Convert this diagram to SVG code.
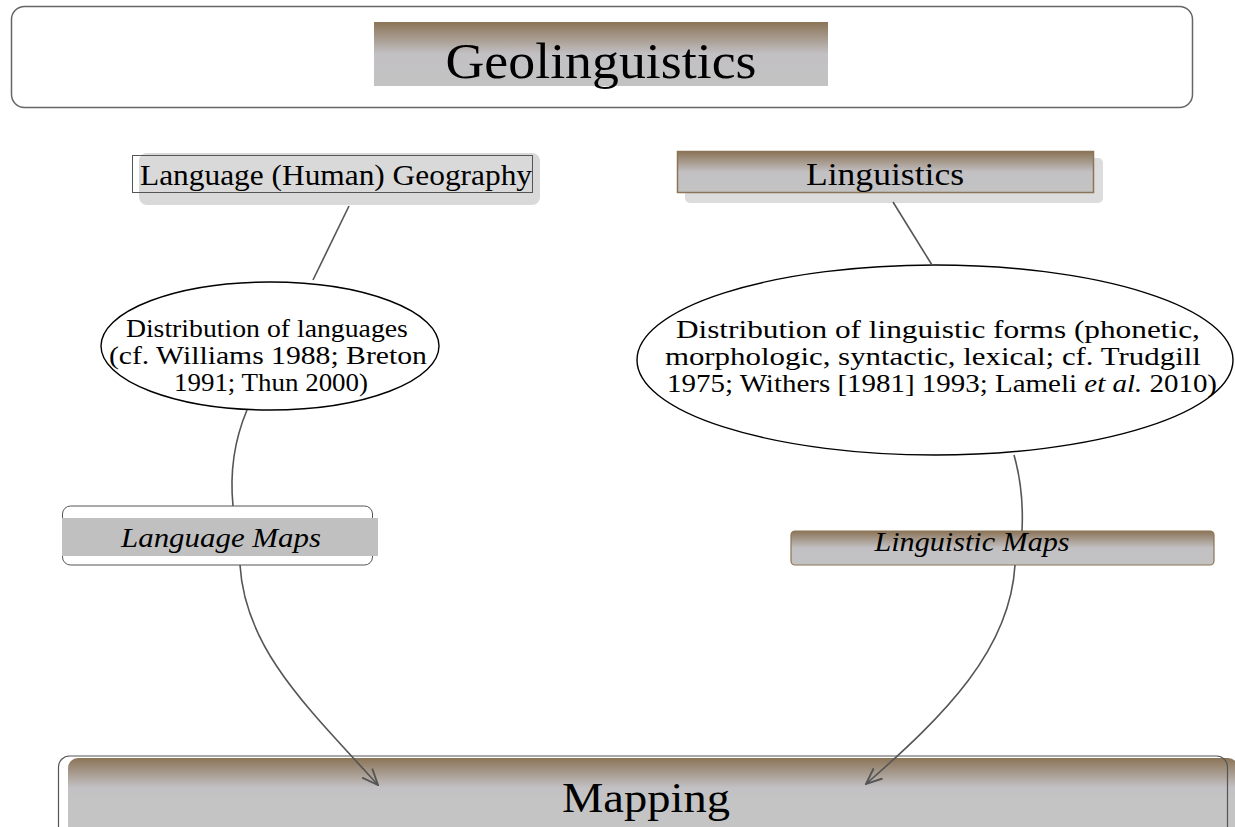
<svg xmlns="http://www.w3.org/2000/svg" width="1235" height="827" viewBox="0 0 1235 827">
<style>
.t{font-family:"Liberation Serif","Times New Roman",serif;fill:#000}
.frame{fill:none;stroke:#666;stroke-width:1.5}
.conn{fill:none;stroke:#555;stroke-width:1.6}
.ell{fill:#fff;stroke:#000;stroke-width:1.4}
</style>
<defs>
<linearGradient id="g" x1="0" y1="0" x2="0" y2="1">
<stop offset="0" stop-color="#8b7457"/>
<stop offset="0.5" stop-color="#c2c0c3"/>
<stop offset="1" stop-color="#c3c3c3"/>
</linearGradient>
<linearGradient id="gm" gradientUnits="userSpaceOnUse" x1="0" y1="758" x2="0" y2="800">
<stop offset="0" stop-color="#8b7457"/>
<stop offset="0.7" stop-color="#c2c0c3"/>
<stop offset="1" stop-color="#c4c4c4"/>
</linearGradient>
<marker id="arr" viewBox="0 0 10 10" refX="9.5" refY="5" markerUnits="userSpaceOnUse" markerWidth="17" markerHeight="17" orient="auto">
<path d="M0,1 L9.5,5 L0,9" fill="none" stroke="#555" stroke-width="1.1"/>
</marker>
</defs>

<g id="title">
<rect class="frame" x="11.5" y="6.5" width="1181" height="101" rx="13"/>
<rect x="374" y="22" width="454" height="64" fill="url(#g)"/>
<text class="t" x="601" y="78" font-size="50" text-anchor="middle" textLength="311" lengthAdjust="spacingAndGlyphs">Geolinguistics</text>
</g>

<g id="language-geography">
<rect x="139" y="153" width="401" height="52" rx="8" fill="#d9d9d9"/>
<rect x="132.5" y="155.5" width="400" height="37" fill="none" stroke="#555" stroke-width="1"/>
<text class="t" x="336" y="185" font-size="29" text-anchor="middle" textLength="392" lengthAdjust="spacingAndGlyphs">Language (Human) Geography</text>
</g>

<g id="linguistics">
<rect x="685" y="158" width="418" height="45" rx="5" fill="#dcdcdc"/>
<rect x="677.5" y="151.5" width="416" height="41" fill="url(#g)" stroke="#8b7457" stroke-width="1.5"/>
<text class="t" x="885" y="185" font-size="32" text-anchor="middle" textLength="158" lengthAdjust="spacingAndGlyphs">Linguistics</text>
</g>

<g id="distribution-languages">
<ellipse class="ell" cx="270" cy="346" rx="169" ry="64"/>
<text class="t" font-size="25" text-anchor="middle">
<tspan x="270" y="337" textLength="282" lengthAdjust="spacingAndGlyphs">Distribution of languages</tspan>
<tspan x="271" y="364" textLength="318" lengthAdjust="spacingAndGlyphs">(cf. Williams 1988; Breton</tspan>
<tspan x="271" y="391" textLength="194" lengthAdjust="spacingAndGlyphs">1991; Thun 2000)</tspan>
</text>
</g>

<g id="distribution-forms">
<ellipse class="ell" cx="935" cy="360" rx="298" ry="95"/>
<text class="t" font-size="25" text-anchor="middle">
<tspan x="941" y="338" textLength="524" lengthAdjust="spacingAndGlyphs">Distribution of linguistic forms (phonetic,</tspan>
<tspan x="936" y="365" textLength="536" lengthAdjust="spacingAndGlyphs">morphologic, syntactic, lexical; cf. Trudgill</tspan>
<tspan x="942" y="392" textLength="550" lengthAdjust="spacingAndGlyphs">1975; Withers [1981] 1993; Lameli <tspan font-style="italic">et al.</tspan> 2010)</tspan>
</text>
</g>

<g id="language-maps">
<rect x="62.5" y="506" width="310" height="59" rx="8" fill="#fff" stroke="#555" stroke-width="1"/>
<rect x="62" y="518" width="316" height="38" fill="#c0c0c0"/>
<text class="t" x="221" y="547" font-size="27" font-style="italic" text-anchor="middle" textLength="200" lengthAdjust="spacingAndGlyphs">Language Maps</text>
</g>

<g id="linguistic-maps">
<rect x="791" y="531" width="423" height="34" rx="4" fill="url(#g)" stroke="#8b7457" stroke-width="1.2"/>
<text class="t" x="972" y="551" font-size="27" font-style="italic" text-anchor="middle" textLength="195" lengthAdjust="spacingAndGlyphs">Linguistic Maps</text>
</g>

<g id="mapping">
<rect x="68" y="758" width="1170" height="120" rx="10" fill="url(#gm)"/>
<rect x="58.5" y="756" width="1169" height="100" rx="11" fill="none" stroke="#555" stroke-width="1.2"/>
<text class="t" x="646" y="812" font-size="42" text-anchor="middle" textLength="168" lengthAdjust="spacingAndGlyphs">Mapping</text>
</g>

<g id="connectors">
<path class="conn" d="M349 206 L313 280"/>
<path class="conn" d="M247 410 Q 228 455 233 506"/>
<path class="conn" d="M240 565 C 245 650, 310 710, 378 785" marker-end="url(#arr)"/>
<path class="conn" d="M893 202 L932 265"/>
<path class="conn" d="M1014 455 Q 1024 490 1022 531"/>
<path class="conn" d="M1015 565 C 1010 650, 945 715, 866 784" marker-end="url(#arr)"/>
</g>
</svg>
